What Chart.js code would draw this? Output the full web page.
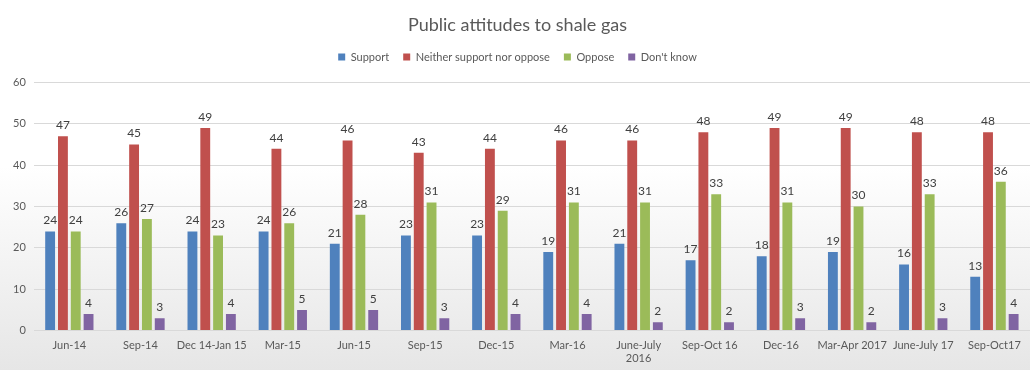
<!DOCTYPE html>
<html>
<head>
<meta charset="utf-8">
<script src="https://cdn.jsdelivr.net/npm/chart.js@4"></script>
<style>
    html, body { margin: 0; padding: 0; }
    body {
        width: 1030px;
        height: 370px;
        background: linear-gradient(to bottom, #ffffff 0%, #ffffff 45%, #e6e6e6 100%);
    }
</style>
</head>
<body>
<canvas id="myChart" width="1030" height="370"></canvas>
<script>
const categories = [
    'Jun-14', 'Sep-14', 'Dec 14-Jan 15', 'Mar-15', 'Jun-15', 'Sep-15', 'Dec-15',
    'Mar-16', ['June-July', '2016'], 'Sep-Oct 16', 'Dec-16', 'Mar-Apr 2017', 'June-July 17', 'Sep-Oct17'
];
const support = [24, 26, 24, 24, 21, 23, 23, 19, 21, 17, 18, 19, 16, 13];
const neither = [47, 45, 49, 44, 46, 43, 44, 46, 46, 48, 49, 49, 48, 48];
const oppose = [24, 27, 23, 26, 28, 31, 29, 31, 31, 33, 31, 30, 33, 36];
const dontKnow = [4, 3, 4, 5, 5, 3, 4, 4, 2, 2, 3, 2, 3, 4];

const fontFamily = 'Lato, "Open Sans", sans-serif';

// Draw the value above each bar
const valueLabels = {
    id: 'valueLabels',
    afterDatasetsDraw(chart) {
        const ctx = chart.ctx;
        ctx.save();
        ctx.font = '12px ' + fontFamily;
        ctx.fillStyle = '#404040';
        ctx.textAlign = 'center';
        ctx.textBaseline = 'bottom';
        chart.data.datasets.forEach((ds, i) => {
            const meta = chart.getDatasetMeta(i);
            meta.data.forEach((bar, j) => {
                ctx.fillText(ds.data[j], bar.x, bar.y - 5);
            });
        });
        ctx.restore();
    }
};

// Extra space between the legend and the plot
const legendGap = {
    id: 'legendGap',
    beforeInit(chart) {
        const fit = chart.legend.fit;
        chart.legend.fit = function() {
            fit.bind(chart.legend)();
            this.height += 10;
        };
    }
};

const ctx = document.getElementById('myChart').getContext('2d');

new Chart(ctx, {
    type: 'bar',
    data: {
        labels: categories,
        datasets: [
            { label: 'Support', data: support, backgroundColor: '#4f81bd' },
            { label: 'Neither support nor oppose', data: neither, backgroundColor: '#c0504d' },
            { label: 'Oppose', data: oppose, backgroundColor: '#9bbb59' },
            { label: "Don't know", data: dontKnow, backgroundColor: '#8064a2' }
        ]
    },
    options: {
        responsive: false,
        animation: false,
        devicePixelRatio: 1,
        categoryPercentage: 0.72,
        barPercentage: 0.77,
        layout: { padding: { left: 5, right: 0, top: 10, bottom: 5 } },
        plugins: {
            title: {
                display: true,
                text: 'Public attitudes to shale gas',
                color: '#595959',
                font: { family: fontFamily, size: 18, weight: 'normal' },
                padding: { top: 4, bottom: 2 }
            },
            legend: {
                display: true,
                position: 'top',
                labels: {
                    color: '#595959',
                    font: { family: fontFamily, size: 11 },
                    boxWidth: 7,
                    boxHeight: 7,
                    padding: 14
                }
            },
            tooltip: { enabled: false }
        },
        scales: {
            x: {
                grid: { display: false },
                border: { display: false },
                ticks: {
                    color: '#595959',
                    font: { family: fontFamily, size: 11 },
                    padding: 0,
                    maxRotation: 0,
                    autoSkip: false
                }
            },
            y: {
                min: 0,
                max: 60,
                grid: { color: '#d9d9d9', drawTicks: false },
                border: { display: false },
                ticks: {
                    stepSize: 10,
                    color: '#595959',
                    font: { family: fontFamily, size: 11 },
                    padding: 8
                }
            }
        }
    },
    plugins: [valueLabels, legendGap]
});
</script>
</body>
</html>
